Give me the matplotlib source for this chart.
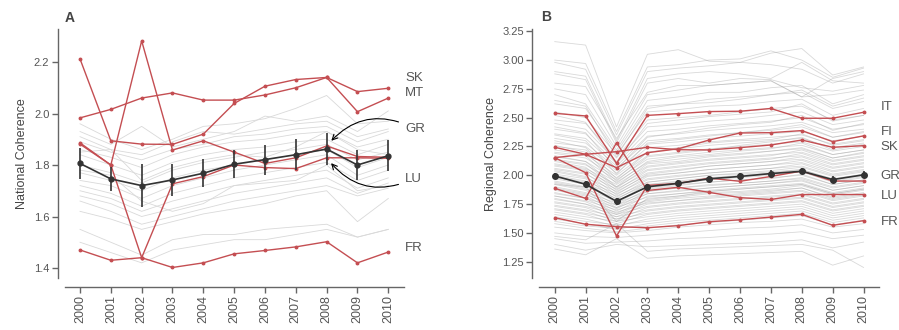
import matplotlib
matplotlib.use('Agg')
import matplotlib.pyplot as plt

plt.rcParams['font.family'] = ['Liberation Sans', 'DejaVu Sans']

years = list(range(2000, 2011))
year_labels = [str(y) for y in years]

# ---- national coherence ----
nat_mean = [1.806, 1.746, 1.720, 1.742, 1.768, 1.803, 1.821, 1.840, 1.862, 1.800, 1.836]
nat_err = [0.060, 0.048, 0.085, 0.063, 0.055, 0.055, 0.058, 0.060, 0.063, 0.060, 0.060]

nat_SK = [2.212, 1.894, 1.881, 1.880, 1.920, 2.039, 2.106, 2.132, 2.140, 2.085, 2.098]
nat_MT = [1.983, 2.016, 2.060, 2.080, 2.052, 2.052, 2.072, 2.100, 2.140, 2.007, 2.060]
nat_GR = [1.886, 1.800, 2.282, 1.858, 1.894, 1.850, 1.806, 1.828, 1.874, 1.833, 1.830]
nat_LU = [1.881, 1.800, 1.440, 1.727, 1.755, 1.800, 1.790, 1.786, 1.828, 1.828, 1.826]
nat_FR = [1.470, 1.430, 1.440, 1.402, 1.420, 1.455, 1.468, 1.482, 1.502, 1.420, 1.462]

nat_other = [
    [1.96, 1.90, 1.86, 1.90, 1.95, 1.96, 1.98, 2.02, 2.07, 1.96, 1.97],
    [1.93, 1.88, 1.95, 1.87, 1.90, 1.93, 1.99, 1.97, 1.99, 1.93, 2.01],
    [1.91, 1.86, 1.84, 1.89, 1.93, 1.92, 1.94, 1.96, 1.97, 1.91, 1.94],
    [1.89, 1.85, 1.82, 1.86, 1.88, 1.91, 1.92, 1.94, 1.95, 1.89, 1.93],
    [1.86, 1.83, 1.79, 1.84, 1.87, 1.89, 1.90, 1.92, 1.93, 1.87, 1.90],
    [1.84, 1.80, 1.76, 1.81, 1.84, 1.86, 1.87, 1.89, 1.90, 1.84, 1.88],
    [1.80, 1.77, 1.73, 1.78, 1.81, 1.83, 1.85, 1.86, 1.88, 1.82, 1.85],
    [1.77, 1.74, 1.70, 1.75, 1.78, 1.80, 1.82, 1.84, 1.86, 1.79, 1.83],
    [1.74, 1.72, 1.67, 1.72, 1.75, 1.78, 1.80, 1.82, 1.84, 1.76, 1.80],
    [1.72, 1.69, 1.64, 1.69, 1.72, 1.75, 1.77, 1.79, 1.81, 1.74, 1.78],
    [1.70, 1.67, 1.62, 1.66, 1.69, 1.72, 1.74, 1.76, 1.78, 1.71, 1.75],
    [1.68, 1.65, 1.60, 1.63, 1.66, 1.69, 1.71, 1.73, 1.75, 1.69, 1.73],
    [1.66, 1.62, 1.57, 1.60, 1.63, 1.66, 1.68, 1.70, 1.72, 1.68, 1.71],
    [1.62, 1.59, 1.55, 1.58, 1.61, 1.63, 1.65, 1.68, 1.70, 1.58, 1.67],
    [1.55, 1.50, 1.45, 1.51, 1.53, 1.53, 1.55, 1.56, 1.57, 1.52, 1.55],
    [1.78, 1.76, 1.66, 1.62, 1.65, 1.72, 1.73, 1.74, 1.80, 1.70, 1.72],
    [1.85, 1.86, 1.74, 1.79, 1.82, 1.84, 1.83, 1.87, 1.93, 1.86, 1.84],
    [1.50, 1.46, 1.42, 1.47, 1.49, 1.51, 1.51, 1.53, 1.55, 1.52, 1.55],
]

# ---- regional coherence ----
reg_mean = [1.994, 1.922, 1.774, 1.900, 1.930, 1.970, 1.990, 2.015, 2.035, 1.963, 2.004]
reg_err = [0.030, 0.030, 0.028, 0.028, 0.028, 0.028, 0.028, 0.028, 0.028, 0.030, 0.030]

reg_IT = [2.538, 2.515, 2.104, 2.520, 2.535, 2.553, 2.556, 2.580, 2.495, 2.495, 2.547]
reg_FI = [2.153, 2.182, 2.066, 2.196, 2.230, 2.306, 2.367, 2.370, 2.388, 2.292, 2.342]
reg_SK = [2.243, 2.182, 2.205, 2.243, 2.222, 2.220, 2.240, 2.263, 2.306, 2.243, 2.257]
reg_GR = [2.153, 2.023, 1.473, 1.912, 1.930, 1.975, 1.948, 1.990, 2.037, 1.950, 1.950]
reg_LU = [1.887, 1.800, 2.283, 1.868, 1.896, 1.852, 1.806, 1.790, 1.833, 1.833, 1.833]
reg_FR = [1.632, 1.575, 1.554, 1.545, 1.563, 1.597, 1.614, 1.637, 1.661, 1.566, 1.606]

reg_other = [
    [3.16, 3.13, 2.42, 3.05, 3.09, 2.99, 2.98, 3.06, 3.10, 2.87, 2.94],
    [3.00, 2.97, 2.38, 2.94, 2.96, 3.00, 3.01, 3.08, 3.00, 2.85, 2.93],
    [2.98, 2.92, 2.35, 2.90, 2.93, 2.95, 2.98, 2.96, 2.92, 2.80, 2.88],
    [2.90, 2.86, 2.30, 2.84, 2.88, 2.90, 2.88, 2.84, 2.98, 2.82, 2.80],
    [2.88, 2.83, 2.28, 2.80, 2.84, 2.80, 2.84, 2.83, 2.76, 2.73, 2.78],
    [2.80, 2.77, 2.32, 2.72, 2.78, 2.78, 2.80, 2.82, 2.68, 2.84, 2.90],
    [2.75, 2.70, 2.25, 2.70, 2.74, 2.78, 2.80, 2.82, 2.68, 2.70, 2.74],
    [2.70, 2.62, 2.22, 2.65, 2.68, 2.72, 2.72, 2.76, 2.78, 2.62, 2.70],
    [2.65, 2.60, 2.16, 2.58, 2.62, 2.63, 2.66, 2.70, 2.74, 2.60, 2.67],
    [2.62, 2.58, 2.20, 2.60, 2.62, 2.66, 2.68, 2.70, 2.72, 2.58, 2.64],
    [2.55, 2.50, 2.18, 2.55, 2.57, 2.60, 2.61, 2.64, 2.66, 2.52, 2.58],
    [2.52, 2.46, 2.10, 2.45, 2.48, 2.51, 2.53, 2.55, 2.62, 2.47, 2.52],
    [2.48, 2.45, 2.15, 2.48, 2.50, 2.52, 2.55, 2.58, 2.60, 2.48, 2.52],
    [2.45, 2.40, 2.12, 2.42, 2.44, 2.47, 2.49, 2.52, 2.55, 2.44, 2.48],
    [2.42, 2.37, 2.05, 2.33, 2.37, 2.41, 2.44, 2.46, 2.52, 2.39, 2.45],
    [2.40, 2.36, 2.10, 2.38, 2.40, 2.43, 2.45, 2.47, 2.50, 2.40, 2.44],
    [2.36, 2.32, 2.08, 2.34, 2.36, 2.39, 2.41, 2.43, 2.46, 2.37, 2.40],
    [2.35, 2.30, 2.01, 2.28, 2.31, 2.34, 2.37, 2.40, 2.44, 2.33, 2.38],
    [2.32, 2.28, 2.06, 2.30, 2.32, 2.35, 2.37, 2.39, 2.42, 2.33, 2.37],
    [2.30, 2.24, 1.97, 2.20, 2.24, 2.28, 2.30, 2.31, 2.36, 2.26, 2.30],
    [2.28, 2.25, 2.04, 2.27, 2.29, 2.32, 2.34, 2.36, 2.38, 2.30, 2.34],
    [2.26, 2.20, 1.95, 2.16, 2.19, 2.22, 2.26, 2.29, 2.33, 2.22, 2.27],
    [2.25, 2.22, 2.02, 2.24, 2.26, 2.29, 2.31, 2.33, 2.35, 2.27, 2.31],
    [2.22, 2.18, 2.00, 2.20, 2.23, 2.26, 2.28, 2.30, 2.32, 2.24, 2.28],
    [2.20, 2.17, 1.93, 2.12, 2.16, 2.18, 2.21, 2.23, 2.28, 2.18, 2.22],
    [2.19, 2.15, 1.98, 2.17, 2.20, 2.23, 2.25, 2.27, 2.29, 2.21, 2.25],
    [2.17, 2.12, 1.90, 2.10, 2.12, 2.16, 2.18, 2.21, 2.24, 2.15, 2.20],
    [2.16, 2.12, 1.96, 2.14, 2.17, 2.20, 2.22, 2.24, 2.26, 2.18, 2.22],
    [2.14, 2.10, 1.89, 2.07, 2.10, 2.13, 2.15, 2.17, 2.22, 2.13, 2.17],
    [2.13, 2.09, 1.94, 2.11, 2.14, 2.17, 2.19, 2.21, 2.23, 2.15, 2.19],
    [2.12, 2.07, 1.87, 2.04, 2.07, 2.10, 2.12, 2.14, 2.19, 2.10, 2.14],
    [2.10, 2.06, 1.92, 2.08, 2.11, 2.14, 2.16, 2.18, 2.20, 2.12, 2.16],
    [2.09, 2.05, 1.85, 2.01, 2.04, 2.08, 2.10, 2.12, 2.16, 2.07, 2.11],
    [2.08, 2.04, 1.90, 2.05, 2.08, 2.11, 2.13, 2.15, 2.17, 2.09, 2.13],
    [2.06, 2.02, 1.83, 1.99, 2.02, 2.05, 2.07, 2.09, 2.13, 2.04, 2.08],
    [2.05, 2.01, 1.88, 2.02, 2.05, 2.08, 2.10, 2.12, 2.14, 2.06, 2.10],
    [2.04, 1.99, 1.81, 1.96, 1.99, 2.02, 2.04, 2.06, 2.10, 2.01, 2.05],
    [2.03, 1.98, 1.86, 2.00, 2.02, 2.05, 2.07, 2.09, 2.11, 2.03, 2.07],
    [2.01, 1.97, 1.79, 1.94, 1.97, 2.00, 2.02, 2.04, 2.07, 1.99, 2.03],
    [2.00, 1.95, 1.84, 1.97, 2.00, 2.02, 2.04, 2.06, 2.08, 2.00, 2.04],
    [1.99, 1.94, 1.77, 1.92, 1.95, 1.98, 2.00, 2.02, 2.05, 1.96, 2.00],
    [1.98, 1.93, 1.82, 1.94, 1.97, 2.00, 2.01, 2.03, 2.05, 1.97, 2.01],
    [1.97, 1.92, 1.76, 1.90, 1.93, 1.96, 1.98, 2.00, 2.03, 1.94, 1.98],
    [1.95, 1.90, 1.80, 1.92, 1.94, 1.97, 1.99, 2.01, 2.03, 1.95, 1.99],
    [1.94, 1.89, 1.74, 1.88, 1.91, 1.94, 1.96, 1.97, 2.01, 1.92, 1.96],
    [1.93, 1.88, 1.78, 1.89, 1.92, 1.94, 1.96, 1.98, 2.00, 1.92, 1.96],
    [1.92, 1.90, 1.60, 1.80, 1.82, 1.86, 1.88, 1.90, 1.92, 1.84, 1.88],
    [1.92, 1.87, 1.72, 1.86, 1.89, 1.91, 1.93, 1.95, 1.98, 1.90, 1.94],
    [1.90, 1.85, 1.76, 1.86, 1.89, 1.92, 1.93, 1.95, 1.97, 1.89, 1.93],
    [1.89, 1.84, 1.71, 1.84, 1.87, 1.89, 1.91, 1.93, 1.96, 1.87, 1.91],
    [1.88, 1.83, 1.74, 1.84, 1.86, 1.89, 1.91, 1.93, 1.95, 1.87, 1.91],
    [1.87, 1.82, 1.69, 1.82, 1.84, 1.87, 1.89, 1.91, 1.93, 1.85, 1.89],
    [1.85, 1.80, 1.72, 1.81, 1.84, 1.86, 1.88, 1.90, 1.92, 1.84, 1.88],
    [1.84, 1.80, 1.67, 1.79, 1.82, 1.85, 1.86, 1.88, 1.91, 1.83, 1.87],
    [1.82, 1.78, 1.70, 1.78, 1.81, 1.84, 1.85, 1.87, 1.89, 1.81, 1.85],
    [1.82, 1.77, 1.66, 1.77, 1.80, 1.82, 1.84, 1.86, 1.89, 1.80, 1.84],
    [1.80, 1.75, 1.68, 1.76, 1.78, 1.81, 1.83, 1.85, 1.87, 1.79, 1.83],
    [1.79, 1.75, 1.64, 1.75, 1.78, 1.80, 1.82, 1.84, 1.86, 1.78, 1.82],
    [1.77, 1.73, 1.66, 1.73, 1.76, 1.78, 1.80, 1.82, 1.84, 1.76, 1.80],
    [1.76, 1.72, 1.62, 1.72, 1.75, 1.77, 1.79, 1.81, 1.83, 1.75, 1.79],
    [1.74, 1.70, 1.64, 1.70, 1.73, 1.75, 1.77, 1.79, 1.81, 1.73, 1.77],
    [1.73, 1.69, 1.60, 1.69, 1.72, 1.74, 1.76, 1.78, 1.80, 1.72, 1.76],
    [1.71, 1.67, 1.62, 1.67, 1.70, 1.72, 1.74, 1.76, 1.78, 1.70, 1.74],
    [1.70, 1.66, 1.58, 1.66, 1.69, 1.71, 1.73, 1.75, 1.77, 1.69, 1.73],
    [1.68, 1.64, 1.60, 1.64, 1.67, 1.69, 1.71, 1.73, 1.75, 1.67, 1.71],
    [1.66, 1.62, 1.56, 1.62, 1.65, 1.67, 1.69, 1.71, 1.73, 1.65, 1.69],
    [1.64, 1.60, 1.57, 1.60, 1.63, 1.65, 1.67, 1.69, 1.71, 1.63, 1.67],
    [1.62, 1.58, 1.53, 1.58, 1.61, 1.63, 1.65, 1.67, 1.69, 1.61, 1.65],
    [1.60, 1.56, 1.54, 1.56, 1.59, 1.61, 1.63, 1.65, 1.67, 1.59, 1.63],
    [1.58, 1.54, 1.51, 1.54, 1.57, 1.59, 1.61, 1.63, 1.65, 1.57, 1.61],
    [1.55, 1.52, 1.50, 1.52, 1.55, 1.57, 1.59, 1.60, 1.62, 1.55, 1.58],
    [1.50, 1.47, 1.46, 1.48, 1.50, 1.52, 1.54, 1.55, 1.57, 1.50, 1.53],
    [1.47, 1.44, 1.58, 1.34, 1.36, 1.37, 1.38, 1.39, 1.40, 1.35, 1.20],
    [1.45, 1.41, 1.42, 1.43, 1.45, 1.46, 1.48, 1.49, 1.51, 1.45, 1.48],
    [1.40, 1.35, 1.40, 1.38, 1.39, 1.40, 1.41, 1.42, 1.44, 1.37, 1.42],
    [1.36, 1.31, 1.45, 1.28, 1.30, 1.31, 1.32, 1.33, 1.34, 1.22, 1.30],
]

RED = '#C44E52'
DARK = '#333333'
AXCOL = '#666666'
TXT = '#555555'


def style_axes(ax):
    for side in ('top', 'right'):
        ax.spines[side].set_visible(False)
    ax.spines['left'].set_position(('outward', 5))
    ax.spines['bottom'].set_position(('outward', 6))
    for side in ('left', 'bottom'):
        ax.spines[side].set_color(AXCOL)
        ax.spines[side].set_linewidth(1.0)
    ax.tick_params(axis='both', colors=AXCOL, labelcolor=TXT,
                   length=4, width=1.0, direction='out')
    ax.tick_params(axis='y', labelsize=8, pad=2)
    ax.tick_params(axis='x', labelsize=9, pad=2)
    ax.set_xlim(1999.5, 2010.5)
    ax.set_xticks(years)
    ax.set_xticklabels(year_labels, rotation=90)


def draw_panel(ax, other, other_kw, reds, mean, err, ms):
    for row in other:
        ax.plot(years, row, **other_kw)
    for row in reds:
        ax.plot(years, row, color=RED, lw=1.0, marker='o', ms=1.8,
                zorder=3)
    ax.errorbar(years, mean, yerr=err, color=DARK, lw=1.2, marker='o',
                ms=ms, elinewidth=1.2, capsize=0, zorder=4)


fig = plt.figure(figsize=(8.99, 3.30), dpi=100)
W, H = 899.0, 330.0
axA = fig.add_axes([64.6 / W, 1 - 278.3 / H, (403.7 - 64.6) / W, 249.0 / H])
axB = fig.add_axes([539.3 / W, 1 - 278.3 / H, (879.0 - 539.3) / W, 249.0 / H])

# national panel
draw_panel(axA, nat_other, dict(color='#d9d9d9', lw=0.6, zorder=1),
           [nat_SK, nat_MT, nat_GR, nat_LU, nat_FR], nat_mean, nat_err, 3.5)
style_axes(axA)
axA.set_ylim(1.360, 2.327)
axA.set_yticks([1.4, 1.6, 1.8, 2.0, 2.2])
axA.set_yticklabels(['1.4', '1.6', '1.8', '2.0', '2.2'])
axA.set_ylabel('National Coherence', fontsize=9, color='#444444')

lab = dict(fontsize=9.5, color=TXT, ha='left', va='center', clip_on=False)
axA.text(2010.55, 2.138, 'SK', **lab)
axA.text(2010.55, 2.078, 'MT', **lab)
axA.text(2010.55, 1.479, 'FR', **lab)
arrow = dict(arrowstyle='->', color='black', lw=0.8, shrinkA=3, shrinkB=5)
axA.annotate('GR', xy=(years[8], nat_GR[8]), xytext=(2010.55, 1.940),
             arrowprops=dict(connectionstyle='arc3,rad=0.4', **arrow),
             fontsize=9.5, color=TXT, ha='left', va='center')
axA.annotate('LU', xy=(years[8], nat_LU[8]), xytext=(2010.55, 1.747),
             arrowprops=dict(connectionstyle='arc3,rad=-0.4', **arrow),
             fontsize=9.5, color=TXT, ha='left', va='center')

# regional panel
draw_panel(axB, reg_other, dict(color='#a0a0a0', lw=0.6, alpha=0.4, zorder=1),
           [reg_IT, reg_FI, reg_SK, reg_GR, reg_LU, reg_FR],
           reg_mean, reg_err, 4)
style_axes(axB)
axB.set_ylim(1.106, 3.267)
axB.set_yticks([1.25, 1.50, 1.75, 2.00, 2.25, 2.50, 2.75, 3.00, 3.25])
axB.set_yticklabels(['1.25', '1.50', '1.75', '2.00', '2.25', '2.50',
                     '2.75', '3.00', '3.25'])
axB.set_ylabel('Regional Coherence', fontsize=9, color='#444444')
axB.text(2010.55, 2.590, 'IT', **lab)
axB.text(2010.55, 2.378, 'FI', **lab)
axB.text(2010.55, 2.248, 'SK', **lab)
axB.text(2010.55, 1.994, 'GR', **lab)
axB.text(2010.55, 1.823, 'LU', **lab)
axB.text(2010.55, 1.597, 'FR', **lab)

fig.text(65 / W, 1 - 18 / H, 'A', fontsize=10, fontweight='bold',
         color='#444444', ha='left', va='center')
fig.text(541 / W, 1 - 17 / H, 'B', fontsize=10, fontweight='bold',
         color='#444444', ha='left', va='center')

fig.savefig('out.png', dpi=100)
